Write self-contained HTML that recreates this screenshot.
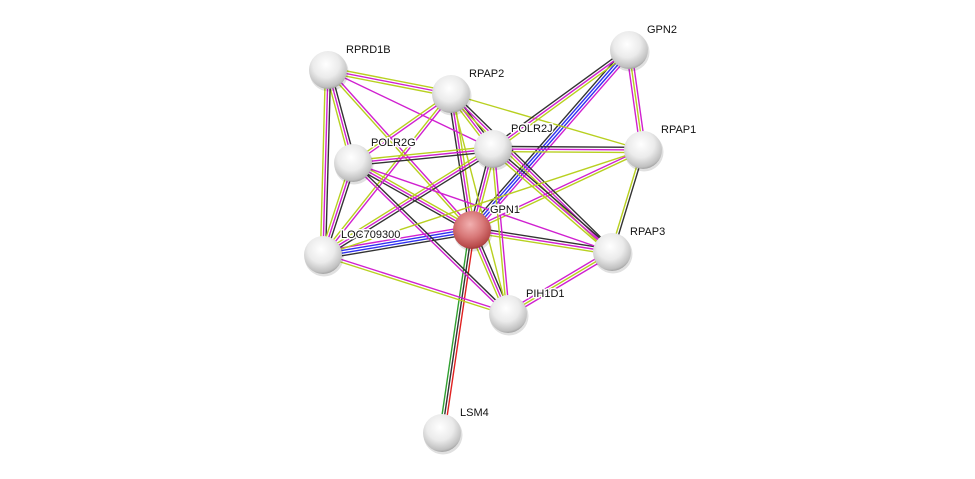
<!DOCTYPE html>
<html><head><meta charset="utf-8"><style>
html,body{margin:0;padding:0;background:#fff;width:975px;height:479px;overflow:hidden}
text{font-family:"Liberation Sans",sans-serif;font-size:11px;fill:#111;stroke:#fff;stroke-width:3px;paint-order:stroke;stroke-linejoin:round}
</style></head><body>
<svg id="s" width="975" height="479" xmlns="http://www.w3.org/2000/svg">
<defs>
<radialGradient id="g" cx="45%" cy="35%" r="70%"><stop offset="0" stop-color="#fff"/><stop offset="0.5" stop-color="#ebebeb"/><stop offset="0.85" stop-color="#c0c0c0"/><stop offset="1" stop-color="#8a8a8a"/></radialGradient>
<radialGradient id="r" cx="45%" cy="35%" r="70%"><stop offset="0" stop-color="#f2b0b0"/><stop offset="0.5" stop-color="#d87878"/><stop offset="0.85" stop-color="#b84a4a"/><stop offset="1" stop-color="#8a2a2a"/></radialGradient>
</defs>
<g id="e"></g><g id="n"></g>
</svg>
<script>
var N={RPRD1B:[328,70],RPAP2:[451,94],GPN2:[629,50],POLR2J:[493,149],RPAP1:[643,150],POLR2G:[353,163],GPN1:[472,230],LOC709300:[323,255],RPAP3:[612,252],PIH1D1:[508,314],LSM4:[442,433]};
var C={k:"#333",m:"#d020d0",y:"#b8d020",b:"#3030f0",r:"#e02020",g:"#30a030"};
var E=[
["GPN1","RPRD1B","ym"],["GPN1","RPAP2","kmy"],["GPN1","GPN2","kbbm"],["GPN1","POLR2J","kmy"],["GPN1","RPAP1","my"],["GPN1","POLR2G","kmy"],["GPN1","LOC709300","kbbm"],["GPN1","RPAP3","kmy"],["GPN1","PIH1D1","kmy"],["GPN1","LSM4","rkg"],
["RPRD1B","RPAP2","ymy"],["RPRD1B","POLR2J","m"],["RPRD1B","POLR2G","kmy"],["RPRD1B","LOC709300","kmy"],
["RPAP2","POLR2J","kmy"],["RPAP2","POLR2G","my"],["RPAP2","LOC709300","my"],["RPAP2","RPAP1","y"],["RPAP2","RPAP3","kmy"],["RPAP2","PIH1D1","y"],
["POLR2J","POLR2G","kmy"],["POLR2J","RPAP1","kmy"],["POLR2J","RPAP3","kmy"],["POLR2J","LOC709300","kmy"],["POLR2J","GPN2","kmy"],["POLR2J","PIH1D1","my"],
["POLR2G","LOC709300","kmy"],["POLR2G","PIH1D1","km"],["POLR2G","RPAP3","m"],
["GPN2","RPAP1","mym"],["RPAP1","RPAP3","ky"],["RPAP1","LOC709300","y"],["RPAP3","PIH1D1","mym"],["LOC709300","PIH1D1","my"]];
var s="";
E.forEach(function(e){var a=N[e[0]],b=N[e[1]],dx=b[0]-a[0],dy=b[1]-a[1],L=Math.hypot(dx,dy),px=-dy/L,py=dx/L,n=e[2].length;
for(var i=0;i<n;i++){var o=(i-(n-1)/2)*2.6;s+='<line x1="'+(a[0]+px*o)+'" y1="'+(a[1]+py*o)+'" x2="'+(b[0]+px*o)+'" y2="'+(b[1]+py*o)+'" stroke="'+C[e[2][i]]+'" stroke-width="1.4"/>';}});
document.getElementById("e").innerHTML=s;
var t="";
for(var k in N){var p=N[k];t+='<circle cx="'+(p[0]+1)+'" cy="'+(p[1]+2)+'" r="19.5" fill="#000" opacity="0.12"/><circle cx="'+p[0]+'" cy="'+p[1]+'" r="19" fill="url(#'+(k=="GPN1"?"r":"g")+')"/>';
t+='<text x="'+(p[0]+18)+'" y="'+(p[1]-17)+'">'+k+'</text>';}
document.getElementById("n").innerHTML=t;
</script>
</body></html>
